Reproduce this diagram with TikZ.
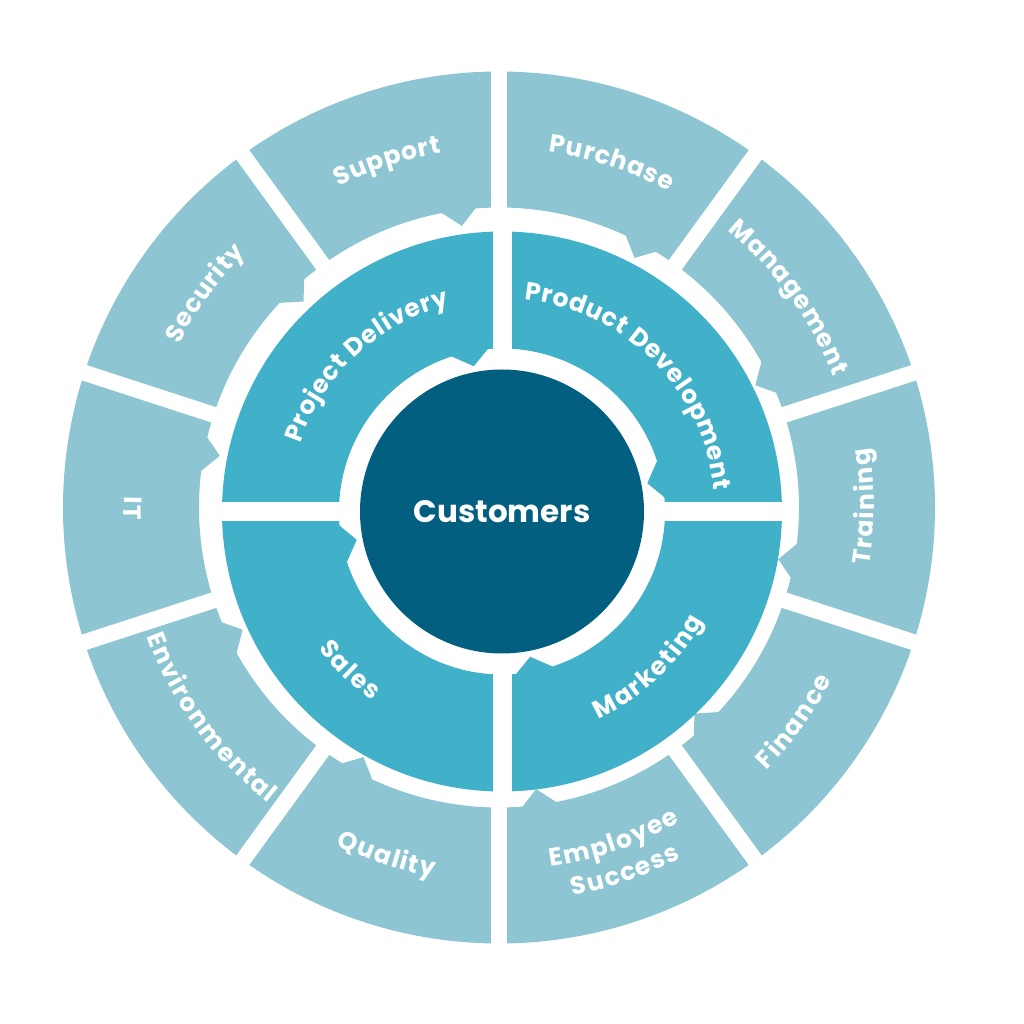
\documentclass[tikz,border=0pt]{standalone}
\usepackage{fontspec}
\setmainfont{Poppins}
\usepackage{tikz}
\usetikzlibrary{decorations.text}
\definecolor{ringlight}{HTML}{8DC6D2}
\definecolor{ringmid}{HTML}{41B0C9}
\definecolor{coredark}{HTML}{035F80}
\newcommand\labelfont{\fontsize{25}{30}\selectfont\bfseries\color{white}\kern1.2pt}
\tikzset{
  outerseg/.style={fill=ringlight},
  midseg/.style={fill=ringmid},
  gapline/.style={white,line width=#1},
  arclabel/.style={decorate,decoration={text along path,text align=center,raise=-8pt,text color=white,text={|\labelfont|#1}}}
}

\begin{document}
\begin{tikzpicture}[x=1pt,y=1pt]
  \useasboundingbox (-499,-516.5) rectangle (525,507.5);
  \foreach \a in {18,54,...,342}{\fill[outerseg] (\a:436) arc[start angle=\a,end angle=\a+36,radius=436] -- (\a+36:300) arc[start angle=\a+36,end angle=\a+11,radius=300] -- (\a+7.5:284) -- (\a+4.5:300) arc[start angle=\a+4.5,end angle=\a,radius=300] -- cycle;}
  \foreach \a in {18,54,...,342}{\draw[gapline=16pt] (\a:292) -- (\a:446);}
  \begin{scope}[shift={(3,-4)}]
    \foreach \a in {0,90,180,270}{\fill[midseg] (\a:280) arc[start angle=\a,end angle=\a+90,radius=280] -- (\a+90:163) arc[start angle=\a+90,end angle=\a+18,radius=163] -- (\a+11:148) -- (\a+5:163) arc[start angle=\a+5,end angle=\a,radius=163] -- cycle;}
    \foreach \a in {0,90,180,270}{\draw[gapline=19pt] (\a:152) -- (\a:286);}
    \node[circle,fill=coredark,minimum size=284,inner sep=0,text=white,font=\fontsize{31}{38}\selectfont\bfseries] (customers) at (0,0) {Customers};
    \path[arclabel=Project Delivery] (178:221) arc[start angle=178,end angle=88,radius=221];
    \path[arclabel=Product Development] (92:221) arc[start angle=92,end angle=-2,radius=221];
    \path[arclabel=Marketing] (-92:221) arc[start angle=-92,end angle=-2,radius=221];
    \path[arclabel=Sales] (181:221) arc[start angle=181,end angle=271,radius=221];
  \end{scope}
  \path[arclabel=Support] (133:367) arc[start angle=133,end angle=83,radius=367];
  \path[arclabel=Purchase] (97:367) arc[start angle=97,end angle=47,radius=367];
  \path[arclabel=Management] (61:367) arc[start angle=61,end angle=11,radius=367];
  \path[arclabel=Security] (169:367) arc[start angle=169,end angle=119,radius=367];
  \path[arclabel=Training] (-25:367) arc[start angle=-25,end angle=25,radius=367];
  \path[arclabel=IT] (155:367) arc[start angle=155,end angle=205,radius=367];
  \path[arclabel=Environmental] (186:367) arc[start angle=186,end angle=246,radius=367];
  \path[arclabel=Quality] (227:367) arc[start angle=227,end angle=277,radius=367];
  \path[arclabel=Employee] (264:355) arc[start angle=264,end angle=314,radius=355];
  \path[arclabel=Success] (264:387) arc[start angle=264,end angle=314,radius=387];
  \path[arclabel=Finance] (299:367) arc[start angle=299,end angle=349,radius=367];
\end{tikzpicture}
\end{document}
